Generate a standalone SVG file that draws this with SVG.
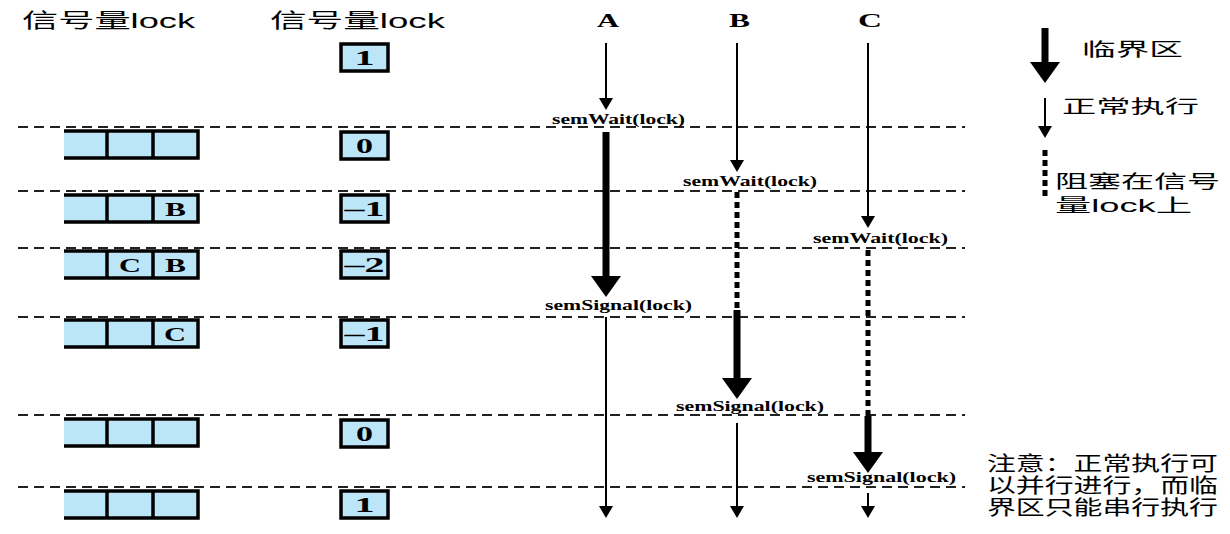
<svg xmlns="http://www.w3.org/2000/svg" width="1230" height="534" viewBox="0 0 1230 534">
<style>
.cjk{font-family:"Liberation Sans","Noto Sans CJK SC",sans-serif;font-size:20px;fill:#000}
.lbl{font-family:"Liberation Serif",serif;font-weight:bold;font-size:15px;fill:#000}
.val{font-family:"Liberation Serif",serif;font-weight:bold;font-size:21px;fill:#000;text-anchor:middle}
.let{font-family:"Liberation Serif",serif;font-weight:bold;font-size:19px;fill:#000}
.proc{font-family:"Liberation Serif",serif;font-weight:bold;font-size:18px;fill:#000}
.cell{fill:#bde5f8}
.edge{stroke:#000;stroke-width:3.5;fill:none}
.dash{stroke:#222;stroke-width:2;stroke-dasharray:10 6;fill:none}
.thin{stroke:#000;stroke-width:2;fill:none;marker-end:url(#hThin)}
.thick{stroke:#000;stroke-width:7;fill:none;marker-end:url(#hThick)}
.dot{stroke:#000;stroke-width:5;stroke-dasharray:6 4;fill:none}
</style>
<defs>
<marker id="hThin" markerUnits="userSpaceOnUse" viewBox="0 0 12 14" markerWidth="12" markerHeight="14" refX="0" refY="7" orient="auto"><path d="M0,0 L12,7 L0,14 z" fill="#000"/></marker>
<marker id="hThick" markerUnits="userSpaceOnUse" viewBox="0 0 21 30" markerWidth="21" markerHeight="30" refX="0" refY="15" orient="auto"><path d="M0,0 L21,15 L0,30 z" fill="#000"/></marker>
<g id="queue">
<rect class="cell" x="64" y="0" width="134" height="27"/>
<path class="edge" d="M64,0 H198 V27 H64 M107,0 V27 M153,0 V27"/>
</g>
<rect id="vbox" class="cell" x="341" y="0" width="47" height="27" stroke="#000" stroke-width="3.5"/>
</defs>

<g id="headers">
<text class="cjk" x="22" y="28" textLength="173" lengthAdjust="spacingAndGlyphs">信号量lock</text>
<text class="cjk" x="270" y="28" textLength="175" lengthAdjust="spacingAndGlyphs">信号量lock</text>
<text class="proc" x="597" y="27" textLength="22" lengthAdjust="spacingAndGlyphs">A</text>
<text class="proc" x="729" y="27" textLength="21" lengthAdjust="spacingAndGlyphs">B</text>
<text class="proc" x="858" y="27" textLength="24" lengthAdjust="spacingAndGlyphs">C</text>
</g>

<g id="dashed-lines">
<line class="dash" x1="18" y1="127" x2="965" y2="127"/>
<line class="dash" x1="18" y1="191" x2="965" y2="191"/>
<line class="dash" x1="18" y1="248" x2="965" y2="248"/>
<line class="dash" x1="18" y1="317" x2="965" y2="317"/>
<line class="dash" x1="18" y1="415" x2="965" y2="415"/>
<line class="dash" x1="18" y1="487" x2="965" y2="487"/>
</g>

<g id="row0">
<use href="#vbox" y="44"/>
<text class="val" x="364.5" y="65" textLength="20" lengthAdjust="spacingAndGlyphs">1</text>
</g>
<g id="row1">
<use href="#queue" y="131"/>
<use href="#vbox" y="132"/>
<text class="val" x="364.5" y="153" textLength="17" lengthAdjust="spacingAndGlyphs">0</text>
</g>
<g id="row2">
<use href="#queue" y="195"/>
<text class="let" x="165" y="216" textLength="21" lengthAdjust="spacingAndGlyphs">B</text>
<use href="#vbox" y="195"/>
<text class="val" x="364.5" y="216" textLength="40" lengthAdjust="spacingAndGlyphs">–1</text>
</g>
<g id="row3">
<use href="#queue" y="251"/>
<text class="let" x="119" y="272" textLength="22" lengthAdjust="spacingAndGlyphs">C</text>
<text class="let" x="165" y="272" textLength="21" lengthAdjust="spacingAndGlyphs">B</text>
<use href="#vbox" y="251"/>
<text class="val" x="364.5" y="272" textLength="40" lengthAdjust="spacingAndGlyphs">–2</text>
</g>
<g id="row4">
<use href="#queue" y="320"/>
<text class="let" x="164" y="341" textLength="22" lengthAdjust="spacingAndGlyphs">C</text>
<use href="#vbox" y="320"/>
<text class="val" x="364.5" y="341" textLength="40" lengthAdjust="spacingAndGlyphs">–1</text>
</g>
<g id="row5">
<use href="#queue" y="419"/>
<use href="#vbox" y="420"/>
<text class="val" x="364.5" y="441" textLength="17" lengthAdjust="spacingAndGlyphs">0</text>
</g>
<g id="row6">
<use href="#queue" y="491"/>
<use href="#vbox" y="491"/>
<text class="val" x="364.5" y="512" textLength="20" lengthAdjust="spacingAndGlyphs">1</text>
</g>

<g id="connectors">
<line class="thin" x1="606" y1="43" x2="606" y2="98"/>
<line class="thick" x1="606" y1="132" x2="606" y2="276"/>
<line class="thin" x1="606" y1="317" x2="606" y2="506"/>
<line class="thin" x1="737" y1="43" x2="737" y2="160"/>
<line class="dot" x1="737" y1="192" x2="737" y2="310"/>
<line class="thick" x1="737" y1="310" x2="737" y2="378"/>
<line class="thin" x1="737" y1="423" x2="737" y2="506"/>
<line class="thin" x1="868" y1="43" x2="868" y2="216"/>
<line class="dot" x1="868" y1="250" x2="868" y2="416"/>
<line class="thick" x1="868" y1="416" x2="868" y2="452"/>
<line class="thin" x1="868" y1="493" x2="868" y2="506"/>
</g>

<g id="op-labels">
<text class="lbl" x="552" y="124" textLength="133" lengthAdjust="spacingAndGlyphs">semWait(lock)</text>
<text class="lbl" x="683" y="186" textLength="134" lengthAdjust="spacingAndGlyphs">semWait(lock)</text>
<text class="lbl" x="813" y="243" textLength="135" lengthAdjust="spacingAndGlyphs">semWait(lock)</text>
<text class="lbl" x="545" y="310" textLength="147" lengthAdjust="spacingAndGlyphs">semSignal(lock)</text>
<text class="lbl" x="676" y="411" textLength="148" lengthAdjust="spacingAndGlyphs">semSignal(lock)</text>
<text class="lbl" x="807" y="482" textLength="149" lengthAdjust="spacingAndGlyphs">semSignal(lock)</text>
</g>

<g id="legend">
<line class="thick" x1="1045" y1="28" x2="1045" y2="62"/>
<text class="cjk" x="1082" y="56" style="font-size:18px" textLength="101" lengthAdjust="spacingAndGlyphs">临界区</text>
<line class="thin" x1="1045" y1="98" x2="1045" y2="126"/>
<text class="cjk" x="1062" y="113" style="font-size:18px" textLength="137" lengthAdjust="spacingAndGlyphs">正常执行</text>
<line class="dot" x1="1045" y1="150" x2="1045" y2="200"/>
<text class="cjk" x="1055" y="188" style="font-size:18px" textLength="165" lengthAdjust="spacingAndGlyphs">阻塞在信号</text>
<text class="cjk" x="1055" y="212" style="font-size:18px" textLength="137" lengthAdjust="spacingAndGlyphs">量lock上</text>
</g>

<g id="note">
<text class="cjk" x="987" y="471" textLength="231" lengthAdjust="spacingAndGlyphs">注意：正常执行可</text>
<text class="cjk" x="987" y="493" textLength="231" lengthAdjust="spacingAndGlyphs">以并行进行，而临</text>
<text class="cjk" x="987" y="515" textLength="231" lengthAdjust="spacingAndGlyphs">界区只能串行执行</text>
</g>
</svg>
